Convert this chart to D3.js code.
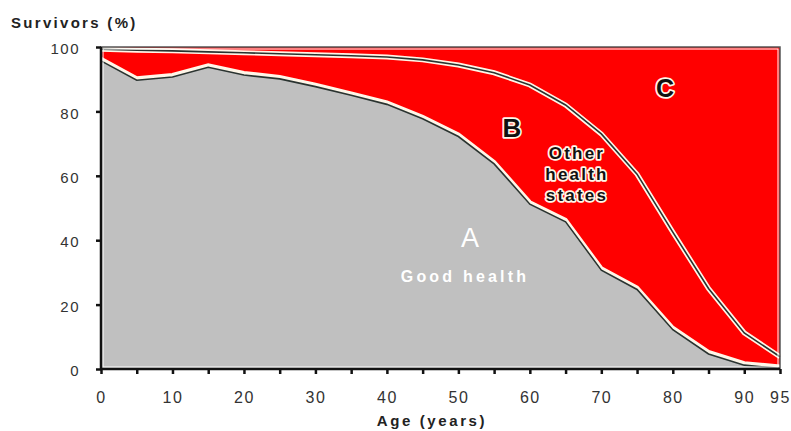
<!DOCTYPE html>
<html>
<head>
<meta charset="utf-8">
<script src="https://cdn.jsdelivr.net/npm/d3@7"></script>
<style>
  body { margin: 0; background: #fff; }
  svg { display: block; font-family: "Liberation Sans", Arial, sans-serif; }
</style>
</head>
<body>
<div id="chart"></div>
<script>
// age groups (years)
var ages = [0, 5, 10, 15, 20, 25, 30, 35, 40, 45, 50, 55, 60, 65, 70, 75, 80, 85, 90, 95];
// A: survivors in good health (%)
var goodHealth = [96, 90, 91, 94, 91.6, 90.4, 88, 85.3, 82.5, 78, 72.5, 64, 51.5, 46, 31, 25, 12.5, 5, 1.5, 0.5];
// A + B: all survivors (%)
var survivors = [99.3, 99, 98.8, 98.5, 98.2, 97.9, 97.6, 97.3, 96.9, 96, 94.4, 92, 88.2, 82, 73, 60.5, 42.5, 25, 11.2, 3.8];
var yTicks = [0, 20, 40, 60, 80, 100];
var xLabels = [0, 10, 20, 30, 40, 50, 60, 70, 80, 90, 95];

var W = 791, H = 431;
var margin = {left: 101, right: 11, top: 47, bottom: 62};

var svg = d3.select('#chart').append('svg')
  .attr('width', W).attr('height', H);

var x = d3.scaleLinear().domain([0, 95]).range([margin.left, W - margin.right]);
var y = d3.scaleLinear().domain([0, 100]).range([H - margin.bottom, margin.top]);

var rows = ages.map(function(a, i){ return {age: a, good: goodHealth[i], alive: survivors[i]}; });

// areas
var areaA = d3.area().x(function(d){ return x(d.age); })
  .y0(y(0)).y1(function(d){ return y(d.good); });
var areaB = d3.area().x(function(d){ return x(d.age); })
  .y0(function(d){ return y(d.good); }).y1(function(d){ return y(d.alive); });
var areaC = d3.area().x(function(d){ return x(d.age); })
  .y0(function(d){ return y(d.alive); }).y1(y(100));

svg.append('path').datum(rows).attr('d', areaC).attr('fill', '#ff0000');
svg.append('path').datum(rows).attr('d', areaB).attr('fill', '#ff0000');
svg.append('path').datum(rows).attr('d', areaA).attr('fill', '#c0c0c0');

// boundary lines: light halo + dark core
var lineGood = d3.line().x(function(d){ return x(d.age); }).y(function(d){ return y(d.good); });
var lineAlive = d3.line().x(function(d){ return x(d.age); }).y(function(d){ return y(d.alive); });

svg.append('path').datum(rows).attr('d', lineGood)
  .attr('fill', 'none').attr('stroke', '#fff6e8').attr('stroke-width', 4)
  .attr('transform', 'translate(0,-1)');
svg.append('path').datum(rows).attr('d', lineGood)
  .attr('fill', 'none').attr('stroke', '#2a3330').attr('stroke-width', 1.6)
  .attr('transform', 'translate(0,1)');

svg.append('path').datum(rows).attr('d', lineAlive)
  .attr('fill', 'none').attr('stroke', '#fff6e8').attr('stroke-width', 5);
svg.append('path').datum(rows).attr('d', lineAlive)
  .attr('fill', 'none').attr('stroke', '#2a3330').attr('stroke-width', 1.6);

// frame (top & right)
svg.append('rect')
  .attr('x', x(0)).attr('y', y(100))
  .attr('width', x(95) - x(0)).attr('height', y(0) - y(100))
  .attr('fill', 'none').attr('stroke', '#555').attr('stroke-width', 1.5);
svg.append('rect')
  .attr('x', x(0) + 2).attr('y', y(100) + 2)
  .attr('width', x(95) - x(0) - 4).attr('height', y(0) - y(100) - 4)
  .attr('fill', 'none').attr('stroke', '#fff').attr('stroke-width', 1);

// axes
var yAxis = svg.append('g')
  .attr('transform', 'translate(' + x(0) + ',0)')
  .call(d3.axisLeft(y).tickValues(yTicks).tickSize(5).tickPadding(16));
var xAxis = svg.append('g')
  .attr('transform', 'translate(0,' + y(0) + ')')
  .call(d3.axisBottom(x).tickValues(ages).tickSize(5).tickPadding(18)
    .tickFormat(function(d){ return xLabels.indexOf(d) >= 0 ? d : ''; }));

[yAxis, xAxis].forEach(function(g){
  g.select('.domain').attr('stroke', '#111').attr('stroke-width', 2.5);
  g.selectAll('.tick line').attr('stroke', '#111').attr('stroke-width', 2.5);
  g.selectAll('.tick text')
    .attr('fill', '#333')
    .attr('font-size', '16px')
    .attr('letter-spacing', '1.5px')
    .attr('font-family', '"Liberation Sans", Arial, sans-serif');
});
yAxis.selectAll('.tick text').attr('font-size', '15px').attr('dy', '0.45em');
yAxis.select('.domain').attr('d', 'M0,' + y(100) + 'V' + y(0));
xAxis.select('.domain').attr('d', 'M' + x(0) + ',0H' + x(95));

// axis titles
svg.append('text')
  .attr('x', 11).attr('y', 28)
  .attr('font-size', '15px').attr('font-weight', 'bold')
  .attr('letter-spacing', '2.3px').attr('fill', '#222')
  .text('Survivors (%)');
svg.append('text')
  .attr('x', 432).attr('y', 426).attr('text-anchor', 'middle')
  .attr('font-size', '15px').attr('font-weight', 'bold')
  .attr('letter-spacing', '2.6px').attr('fill', '#222')
  .text('Age (years)');

// region labels
function outlined(tx, ty, str, size, spacing){
  var t = svg.append('text')
    .attr('x', tx).attr('y', ty).attr('text-anchor', 'middle')
    .attr('dominant-baseline', 'central')
    .attr('font-size', size + 'px').attr('font-weight', 'bold')
    .attr('letter-spacing', spacing + 'px')
    .attr('fill', '#111')
    .attr('stroke', '#fff6e8').attr('stroke-width', 3.5)
    .attr('stroke-linejoin', 'round')
    .attr('paint-order', 'stroke')
    .text(str);
  return t;
}
outlined(665, 88, 'C', 25, 0);
outlined(512, 128, 'B', 26, 0);
outlined(577, 153, 'Other', 17, 2.2);
outlined(577, 174, 'health', 17, 2.2);
outlined(577, 195, 'states', 17, 2.2);

svg.append('text')
  .attr('x', 470).attr('y', 238).attr('text-anchor', 'middle')
  .attr('dominant-baseline', 'central')
  .attr('font-size', '27px').attr('fill', '#fff')
  .text('A');
svg.append('text')
  .attr('x', 465).attr('y', 276).attr('text-anchor', 'middle')
  .attr('dominant-baseline', 'central')
  .attr('font-size', '16px').attr('font-weight', 'bold')
  .attr('letter-spacing', '3.2px').attr('fill', '#fff')
  .text('Good health');
</script>
</body>
</html>
